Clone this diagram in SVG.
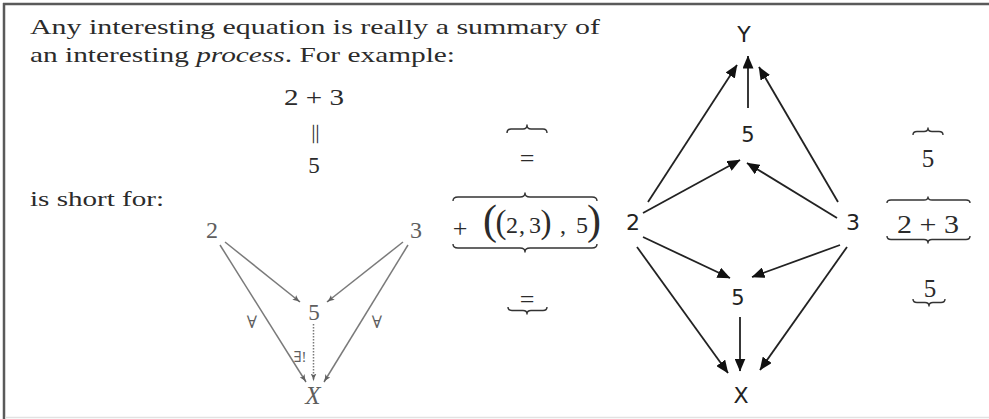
<svg xmlns="http://www.w3.org/2000/svg" width="989" height="419" viewBox="0 0 989 419">
<defs>
<style>
.serif{font-family:"Liberation Serif","DejaVu Serif",serif;fill:#2b2b2b}
.sans{font-family:"DejaVu Sans","Liberation Sans",sans-serif;fill:#222}
.mid{text-anchor:middle}
.brace{fill:none;stroke:#333;stroke-width:1.4;stroke-linejoin:round}
.lgray{font-family:"Liberation Serif","DejaVu Serif",serif;fill:#5e5e5e}
.larrow{fill:none;stroke:#7a7a7a;stroke-width:1.5}
.rarrow{fill:none;stroke:#222;stroke-width:1.8}
</style>
<marker id="hl" viewBox="0 0 8 6" refX="7.5" refY="3" markerWidth="8" markerHeight="6" markerUnits="userSpaceOnUse" orient="auto">
<path d="M0,0 Q4,2.4 8,3 Q4,3.6 0,6 L1.5,3 z" fill="#606060"/>
</marker>
<marker id="hr" viewBox="0 0 13 11" refX="12.5" refY="5.5" markerWidth="13" markerHeight="11" markerUnits="userSpaceOnUse" orient="auto">
<path d="M0,0 L13,5.5 L0,11 z" fill="#111"/>
</marker>
</defs>
<rect width="989" height="419" fill="#fff"/>
<g id="frame">
<line x1="3" y1="4" x2="989" y2="4" stroke="#5a5a5a" stroke-width="2.5"/>
<line x1="4" y1="3" x2="4" y2="419" stroke="#5a5a5a" stroke-width="2.5"/>
<line x1="5" y1="417.5" x2="989" y2="417.5" stroke="#e2e2e2" stroke-width="1.5"/>
</g>
<g id="intro">
<text class="serif" x="30" y="34" font-size="21" textLength="570" lengthAdjust="spacingAndGlyphs">Any interesting equation is really a summary of</text>
<text class="serif" x="30" y="62" font-size="21" textLength="425" lengthAdjust="spacingAndGlyphs">an interesting <tspan font-style="italic">process</tspan>. For example:</text>
<text class="serif mid" x="314" y="105" font-size="24" textLength="60" lengthAdjust="spacingAndGlyphs">2 + 3</text>
<text class="serif mid" x="0" y="6" font-size="20" transform="translate(314,134) rotate(90) scale(2,1)">=</text>
<text class="serif mid" x="314" y="173" font-size="23">5</text>
<text class="serif" x="30" y="206" font-size="21" textLength="134" lengthAdjust="spacingAndGlyphs">is short for:</text>
</g>
<g id="left-diagram">
<g id="L2"><text class="lgray mid" x="212" y="238" font-size="24">2</text></g>
<g id="L3"><text class="lgray mid" x="416" y="238" font-size="24">3</text></g>
<g id="L5"><text class="lgray mid" x="314" y="320" font-size="23">5</text></g>
<g id="LX"><text class="lgray mid" x="313" y="404" font-size="25" font-style="italic">X</text></g>
<g id="left-connectors">
<line class="larrow" x1="225" y1="242" x2="300" y2="302" marker-end="url(#hl)"/>
<line class="larrow" x1="403" y1="242" x2="327" y2="302" marker-end="url(#hl)"/>
<line class="larrow" x1="220" y1="245" x2="306" y2="382" marker-end="url(#hl)"/>
<line class="larrow" x1="408" y1="245" x2="324" y2="382" marker-end="url(#hl)"/>
<line class="larrow" x1="313.5" y1="324" x2="313.5" y2="381" stroke-dasharray="1.5 1.5" marker-end="url(#hl)"/>
<text class="lgray mid" x="252" y="328" font-size="17">∀</text>
<text class="lgray mid" x="377" y="328" font-size="17">∀</text>
<text class="lgray mid" x="300" y="362" font-size="15">∃!</text>
</g>
</g>
<g id="middle-column">
<path class="brace" d="M507,133 Q507,129 511,129 L523,129 Q527,129 527,125 Q527,129 531,129 L543,129 Q547,129 547,133"/>
<text class="serif mid" x="527" y="167" font-size="26">=</text>
<path class="brace" d="M453,201 Q453,197 458,197 L520,197 Q525,197 525,193 Q525,197 530,197 L592,197 Q597,197 597,201"/>
<text class="serif mid" x="460" y="237" font-size="26">+</text>
<text class="serif mid" x="490" y="234" font-size="42">(</text>
<text class="serif mid" x="501" y="233" font-size="33">(</text>
<text class="serif mid" x="512" y="233" font-size="24">2</text>
<text class="serif mid" x="522" y="233" font-size="24">,</text>
<text class="serif mid" x="535" y="233" font-size="24">3</text>
<text class="serif mid" x="546" y="233" font-size="33">)</text>
<text class="serif mid" x="563" y="233" font-size="24">,</text>
<text class="serif mid" x="582" y="233" font-size="24">5</text>
<text class="serif mid" x="594" y="234" font-size="42">)</text>
<path class="brace" d="M453,244 Q453,248 458,248 L520,248 Q525,248 525,252 Q525,248 530,248 L592,248 Q597,248 597,244"/>
<text class="serif mid" x="527" y="308" font-size="26">=</text>
<path class="brace" d="M508,307 Q508,310.5 512,310.5 L523,310.5 Q527,310.5 527,314 Q527,310.5 531,310.5 L543,310.5 Q547,310.5 547,307"/>
</g>
<g id="right-diagram">
<g id="RY"><text class="sans mid" x="744" y="42" font-size="22">Y</text></g>
<g id="R5top"><text class="sans mid" x="748" y="142" font-size="21">5</text></g>
<g id="R2"><text class="sans mid" x="633" y="230" font-size="22">2</text></g>
<g id="R3"><text class="sans mid" x="853" y="230" font-size="22">3</text></g>
<g id="R5bot"><text class="sans mid" x="738" y="305" font-size="21">5</text></g>
<g id="RX"><text class="sans mid" x="741" y="403" font-size="22">X</text></g>
<g id="right-connectors">
<line class="rarrow" x1="648" y1="202" x2="737" y2="65" marker-end="url(#hr)"/>
<line class="rarrow" x1="748" y1="108" x2="748" y2="56" marker-end="url(#hr)"/>
<line class="rarrow" x1="838" y1="202" x2="759" y2="67" marker-end="url(#hr)"/>
<line class="rarrow" x1="643" y1="213" x2="740" y2="160" marker-end="url(#hr)"/>
<line class="rarrow" x1="837" y1="218" x2="747" y2="163" marker-end="url(#hr)"/>
<line class="rarrow" x1="643" y1="237" x2="730" y2="278" marker-end="url(#hr)"/>
<line class="rarrow" x1="840" y1="245" x2="752" y2="277" marker-end="url(#hr)"/>
<line class="rarrow" x1="637" y1="247" x2="728" y2="373" marker-end="url(#hr)"/>
<line class="rarrow" x1="740" y1="317" x2="740" y2="371" marker-end="url(#hr)"/>
<line class="rarrow" x1="847" y1="247" x2="760" y2="370" marker-end="url(#hr)"/>
</g>
</g>
<g id="right-column">
<path class="brace" d="M913,135 Q913,131.5 917,131.5 L924,131.5 Q928,131.5 928,128 Q928,131.5 932,131.5 L939,131.5 Q943,131.5 943,135"/>
<text class="serif mid" x="928" y="167" font-size="25">5</text>
<path class="brace" d="M887,203 Q887,200 891,200 L924,200 Q928,200 928,197 Q928,200 932,200 L966,200 Q970,200 970,203"/>
<text class="serif mid" x="928" y="233" font-size="25" textLength="62" lengthAdjust="spacingAndGlyphs">2 + 3</text>
<path class="brace" d="M887,236 Q887,239.5 891,239.5 L924,239.5 Q928,239.5 928,243 Q928,239.5 932,239.5 L966,239.5 Q970,239.5 970,236"/>
<text class="serif mid" x="930" y="297" font-size="25">5</text>
<path class="brace" d="M913,299 Q913,302.5 917,302.5 L925,302.5 Q929,302.5 929,306 Q929,302.5 933,302.5 L941,302.5 Q945,302.5 945,299"/>
</g>
</svg>
